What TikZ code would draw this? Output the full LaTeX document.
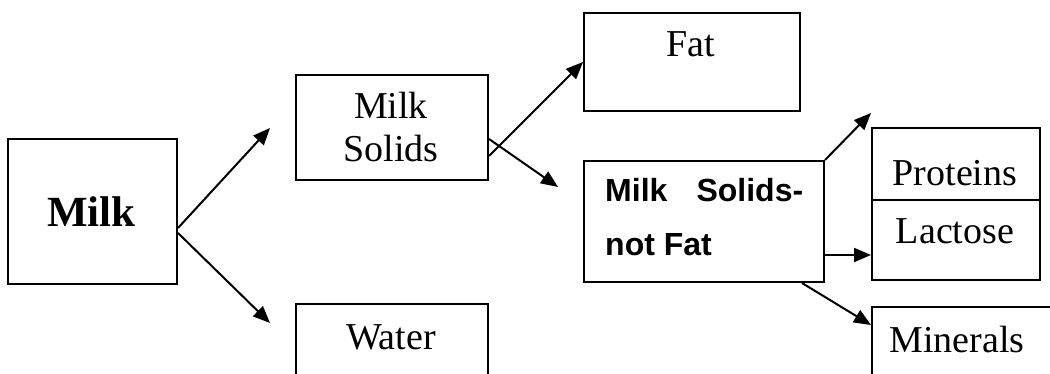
\documentclass[tikz,border=0pt]{standalone}
\usepackage{fontspec}
\setmainfont{Liberation Serif}
\setsansfont{Liberation Sans}
\usetikzlibrary{arrows.meta,calc}
\begin{document}
\begin{tikzpicture}[x=1pt,y=-1pt,
  box/.style={draw,line width=2pt,rectangle,inner sep=0pt,anchor=north west},
  lbl/.style={anchor=base,inner sep=0pt,font=\fontsize{38}{42}\selectfont},
  link/.style={line width=2pt,-{Triangle[length=17pt,width=14pt]}}]
\useasboundingbox (0,0) rectangle (1050,374);
\clip (0,0) rectangle (1050,374);
% boxes
\node[box,minimum width=169pt,minimum height=145pt] (milk) at (7,138) {};
\node[box,minimum width=192pt,minimum height=105pt] (ms) at (295,74) {};
\node[box,minimum width=192pt,minimum height=100pt] (water) at (295,303) {};
\node[box,minimum width=216pt,minimum height=98pt] (fat) at (583,12) {};
\node[box,minimum width=240pt,minimum height=121pt] (msnf) at (583,160) {};
\node[box,minimum width=168pt,minimum height=72pt] (prot) at (871,127) {};
\node[box,minimum width=168pt,minimum height=80pt] (lact) at (871,199) {};
\node[box,minimum width=200pt,minimum height=100pt] (min) at (871,306) {};
% labels
\node[lbl,font=\fontsize{43}{46}\selectfont\bfseries] (tmilk) at (91.5,227) {Milk};
\node[lbl] (tms1) at (391,119) {Milk};
\node[lbl] (tms2) at (391,162) {Solids};
\node[lbl] (twater) at (391,349) {Water};
\node[lbl] (tfat) at (691,57) {Fat};
\node[lbl] (tprot) at (955,186) {Proteins};
\node[lbl] (tlact) at (955,244) {Lactose};
\node[lbl] (tmin) at (957,352) {Minerals};
\node[anchor=base west,inner sep=0pt,font=\fontsize{32}{34}\sffamily\bfseries] (tmsnf1) at (605,202)
  {\makebox[198pt][s]{Milk\hfill Solids-}};
\node[anchor=base west,inner sep=0pt,font=\fontsize{32}{34}\sffamily\bfseries] (tmsnf2) at (605,256) {not Fat};
% connectors
\coordinate (tipms) at (270,128);
\coordinate (tipw) at (270,323);
\coordinate (tipmsnf) at (558,187);
\coordinate (tipprot) at (871,113);
\coordinate (tipmin) at (871,325);
\draw[link] ($(milk.north east)+(0,90)$) -- (tipms);
\draw[link] ($(milk.north east)+(0,95)$) -- (tipw);
\draw[link] ($(ms.north east)+(0,82)$) -- (fat.west);
\draw[link] ($(ms.north east)+(0,65)$) -- (tipmsnf);
\draw[link] (msnf.north east) -- (tipprot);
\draw[link] ($(msnf.north east)+(0,95)$) -- ($(lact.north west)+(0,56)$);
\draw[link] ($(msnf.south east)+(-23,0)$) -- (tipmin);
\end{tikzpicture}
\end{document}
